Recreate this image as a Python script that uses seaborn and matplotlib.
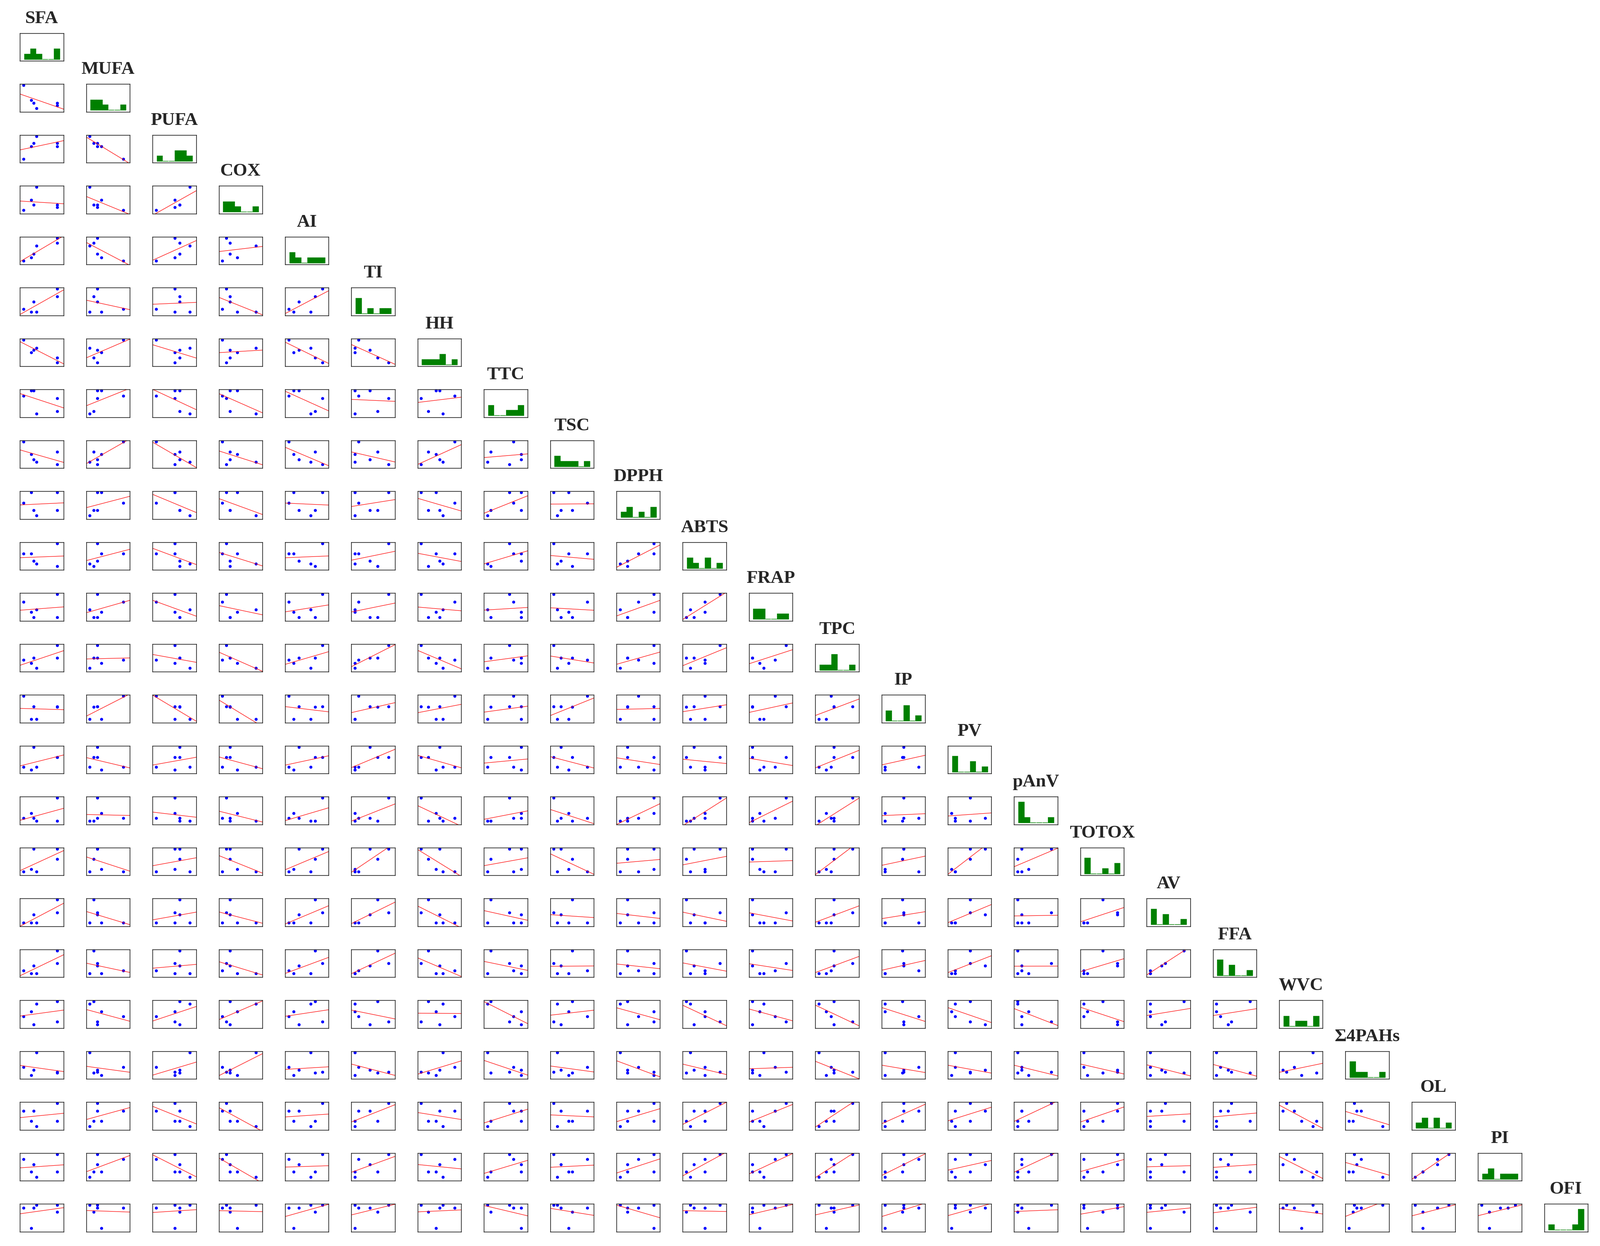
import numpy as np
import pandas as pd
import matplotlib
matplotlib.use("Agg")
import matplotlib.pyplot as plt
import seaborn as sns

# Variable names (diagonal titles)
variables = ["SFA", "MUFA", "PUFA", "COX", "AI", "TI", "HH", "TTC", "TSC", "DPPH",
             "ABTS", "FRAP", "TPC", "IP", "PV", "pAnV", "TOTOX", "AV", "FFA", "WVC",
             "Σ4PAHs", "OL", "PI", "OFI"]

# Relative (min-max scaled) values, six samples A-F
SFA    = [0.000, 0.232, 0.305, 0.386, 1.000, 1.000]
MUFA   = [1.000, 0.340, 0.219, 0.000, 0.219, 0.109]
PUFA   = [0.000, 0.554, 0.700, 1.000, 0.554, 0.700]
COX    = [0.000, 0.442, 0.225, 1.000, 0.116, 0.225]
AI     = [0.000, 0.150, 0.300, 0.650, 1.000, 0.790]
TI     = [0.109, 0.000, 0.442, 0.000, 1.000, 0.674]
HH     = [1.000, 0.442, 0.551, 0.640, 0.000, 0.217]
TTC    = [0.768, 1.000, 1.000, 0.000, 0.659, 0.101]
TSC    = [1.000, 0.442, 0.217, 0.109, 0.000, 0.551]
DPPH   = [0.551, 1.000, 0.217, 0.000, 1.000, 0.217]
ABTS   = [0.554, 0.554, 0.223, 0.115, 1.000, 0.000]
FRAP   = [0.669, 0.216, 0.000, 0.331, 1.000, 0.000]
TPC    = [0.360, 0.217, 0.449, 0.000, 1.000, 0.449]
IP     = [1.000, 0.000, 0.551, 0.000, 0.551, 0.520]
PV     = [0.116, 0.000, 1.000, 0.116, 0.558, 0.558]
pAnV   = [0.114, 0.329, 0.114, 0.000, 1.000, 0.000]
TOTOX  = [0.000, 0.106, 1.000, 0.000, 1.000, 0.560]
AV     = [0.000, 0.000, 0.345, 0.000, 0.442, 1.000]
FFA    = [0.122, 0.000, 0.345, 0.000, 0.446, 1.000]
WVC    = [0.340, 0.554, 0.000, 0.892, 0.115, 1.000]
PAHs4  = [0.360, 0.000, 0.223, 1.000, 0.150, 0.115]
OL     = [0.661, 0.222, 0.661, 0.000, 1.000, 0.222]
PI     = [0.781, 0.225, 0.556, 0.000, 1.000, 0.225]
OFI    = [0.882, 0.000, 0.882, 1.000, 1.000, 0.700]

columns = [SFA, MUFA, PUFA, COX, AI, TI, HH, TTC, TSC, DPPH, ABTS, FRAP, TPC, IP,
           PV, pAnV, TOTOX, AV, FFA, WVC, PAHs4, OL, PI, OFI]
df = pd.DataFrame({name: vals for name, vals in zip(variables, columns)})

sns.set_theme(style="white")
plt.rcParams['font.family'] = ['Liberation Serif', 'DejaVu Serif']

W, H = 3945, 3072
fig = plt.figure(figsize=(W / 300, H / 300), dpi=300)

n = len(variables)
cell_w, cell_h = 107.4, 68.6
x0, dx = 49.3, 163.4
y0, dy = 81.7, 125.5

def xlims(v):
    lo, hi = np.min(v), np.max(v)
    r = hi - lo
    return lo - 0.106 * r, hi + 0.19 * r

def ylims(v):
    lo, hi = np.min(v), np.max(v)
    r = hi - lo
    return lo - 0.165 * r, hi + 0.055 * r

for i in range(n):
    for j in range(i + 1):
        left = (x0 + dx * j) / W
        bottom = 1 - (y0 + dy * i + cell_h) / H
        ax = fig.add_axes([left, bottom, cell_w / W, cell_h / H])
        xv = df[variables[j]].to_numpy()
        if i == j:
            lo, hi = xv.min(), xv.max()
            r = hi - lo
            sns.histplot(x=xv, bins=6, binrange=(lo, hi), shrink=0.93,
                         color='#008000', edgecolor='#008000', linewidth=0.35,
                         alpha=1, stat='count', ax=ax)
            ax.set_xlim(lo - 0.115 * r, hi + 0.105 * r)
            ax.set_ylim(-0.36, 5.0)
            ax.set_title(variables[i], fontsize=10.8, fontweight='bold', pad=6,
                         family=['Liberation Serif', 'DejaVu Serif'])
        else:
            yv = df[variables[i]].to_numpy()
            ax.set_xlim(*xlims(xv))
            ax.set_ylim(*ylims(yv))
            sns.regplot(x=xv, y=yv, ci=None, truncate=False, ax=ax,
                        scatter_kws=dict(s=3.2, color='#0000FF', alpha=1, linewidths=0),
                        line_kws=dict(color='#FF0000', lw=0.3))
            ax.set_xlim(*xlims(xv))
            ax.set_ylim(*ylims(yv))
        ax.set_xticks([])
        ax.set_yticks([])
        ax.set_xlabel('')
        ax.set_ylabel('')
        for sp in ax.spines.values():
            sp.set_visible(True)
            sp.set_color('black')
            sp.set_linewidth(0.35)

fig.savefig('out.png', dpi=300)
